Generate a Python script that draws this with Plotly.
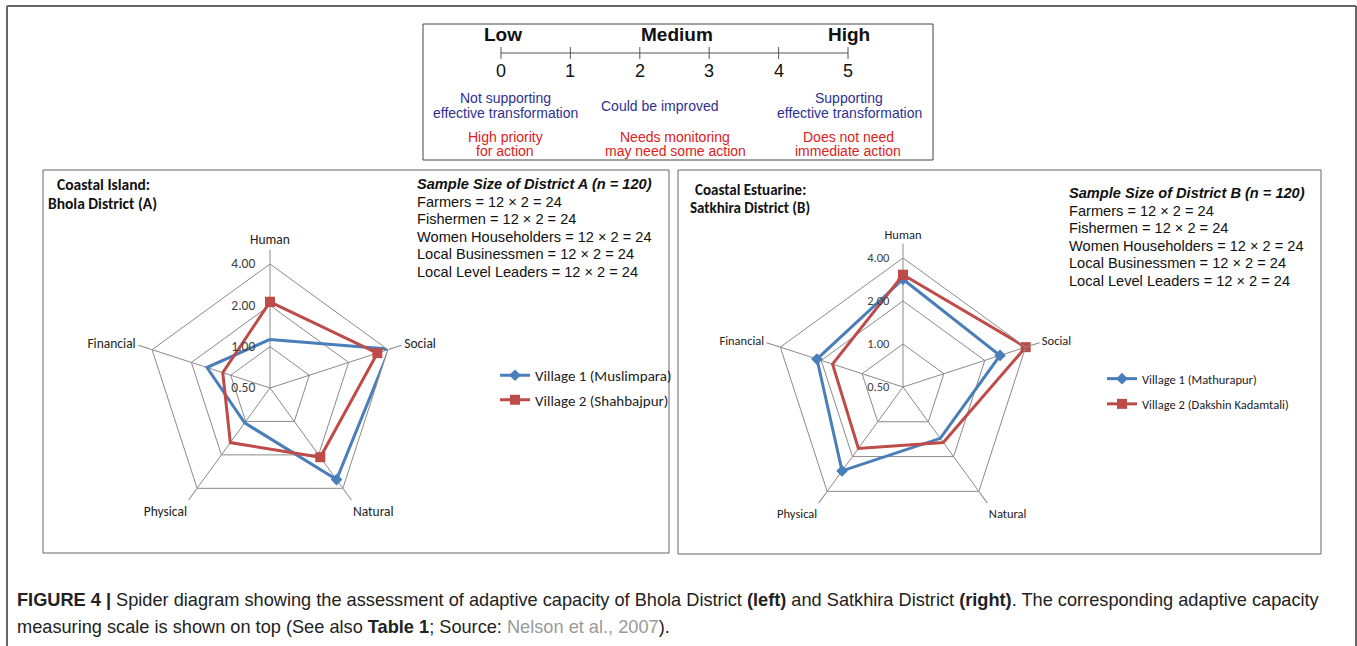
import math
import plotly.graph_objects as go

W, H = 1357, 646

categories = ["Human", "Social", "Natural", "Physical", "Financial"]

# District A (Bhola)
bhola_village1 = [1.13, 4.12, 3.34, 1.03, 1.52]
bhola_village2 = [2.12, 3.32, 2.10, 1.55, 1.15]
bhola_names = ["Village 1 (Muslimpara)", "Village 2 (Shahbajpur)"]

# District B (Satkhira)
satkhira_village1 = [2.84, 2.59, 1.39, 2.66, 2.15]
satkhira_village2 = [3.05, 4.00, 1.51, 1.70, 1.65]
satkhira_names = ["Village 1 (Mathurapur)", "Village 2 (Dakshin Kadamtali)"]

radial_ticks = [0.5, 1, 2, 4]
radial_ticktext = ["0.50", "1.00", "2.00", "4.00"]

scale_values = [0, 1, 2, 3, 4, 5]
scale_levels = ["Low", "Medium", "High"]
scale_blue = [["Not supporting", "effective transformation"], ["Could be improved"],
              ["Supporting", "effective transformation"]]
scale_red = [["High priority", "for action"], ["Needs monitoring", "may need some action"],
             ["Does not need", "immediate action"]]

sample_lines_title = "Sample Size of District {} (n = 120)"
sample_lines = ["Farmers = 12 \u00d7 2 = 24", "Fishermen = 12 \u00d7 2 = 24",
                "Women Householders = 12 \u00d7 2 = 24", "Local Businessmen = 12 \u00d7 2 = 24",
                "Local Level Leaders = 12 \u00d7 2 = 24"]

BLUE = "#4a7ebb"
RED = "#be4b48"
GRID = "#8a8a8a"
CAL = "Carlito, Liberation Sans Narrow, DejaVu Sans Condensed, sans-serif"
ARIAL = "Liberation Sans, Arial, sans-serif"
PAD = "\u00a0" * 4


def px(x):
    return x / W


def py(y):
    return 1 - y / H


fig = go.Figure()


def add_radar(polar, legend, v1, v2, names):
    for vals, name, color, sym, size in [(v1, names[0], BLUE, "diamond", 9),
                                          (v2, names[1], RED, "square", 10)]:
        fig.add_trace(go.Scatterpolar(
            r=vals + vals[:1], theta=categories + categories[:1], mode="lines+markers",
            name=name, subplot=polar, legend=legend, legendgroup=name, cliponaxis=False,
            line=dict(color=color, width=3), marker=dict(symbol=sym, size=size, color=color)))


add_radar("polar", "legend", bhola_village1, bhola_village2, bhola_names)
add_radar("polar2", "legend2", satkhira_village1, satkhira_village2, satkhira_names)


def polar_layout(cx, cy, R, fs):
    return dict(
        domain=dict(x=[px(cx - R), px(cx + R)], y=[py(cy + R), py(cy - R)]),
        gridshape="linear", bgcolor="white",
        radialaxis=dict(type="log", range=[math.log10(0.5), math.log10(4)],
                        tickvals=radial_ticks, ticktext=[t + PAD for t in radial_ticktext],
                        angle=90, tickangle=90,
                        side="counterclockwise", showline=False, ticks="",
                        gridcolor=GRID, gridwidth=1,
                        tickfont=dict(family=CAL, size=fs, color="#404040")),
        angularaxis=dict(direction="clockwise", rotation=90, categoryorder="array",
                         categoryarray=categories, showline=True, linecolor=GRID, linewidth=1,
                         gridcolor=GRID, ticks="outside", ticklen=14, tickcolor=GRID,
                         tickfont=dict(family=CAL, size=fs, color="#222")))


fig.update_layout(polar=polar_layout(270, 388, 124, 13.5), polar2=polar_layout(903, 387, 129, 12.5))

legend_common = dict(bgcolor="rgba(0,0,0,0)", traceorder="grouped",
                     itemwidth=30, xanchor="left", yanchor="top")
fig.update_layout(legend=dict(x=px(495), y=py(359), tracegroupgap=2,
                              font=dict(family=CAL, size=15, color="#222"), **legend_common),
                  legend2=dict(x=px(1102), y=py(364), tracegroupgap=6,
                               font=dict(family=CAL, size=12.5, color="#222"), **legend_common))

shapes = []
annotations = []


def rect(x0, y0, x1, y1, color="#777", width=1):
    shapes.append(dict(type="rect", xref="paper", yref="paper", x0=px(x0), x1=px(x1),
                       y0=py(y1), y1=py(y0), line=dict(color=color, width=width)))


def line(x0, y0, x1, y1, color="#555", width=1):
    shapes.append(dict(type="line", xref="paper", yref="paper", x0=px(x0), x1=px(x1),
                       y0=py(y0), y1=py(y1), line=dict(color=color, width=width)))


def text(x, y, s, size, color="#111", family=ARIAL, anchor="center"):
    annotations.append(dict(x=px(x), y=py(y), xref="paper", yref="paper", text=s, showarrow=False,
                            xanchor=anchor, yanchor="middle", borderpad=0,
                            font=dict(family=family, size=size, color=color)))


# outer frame (open at the bottom)
line(7, 6, 1356, 6, "#666", 2)
line(7, 6, 7, 646, "#666", 2)
line(1356, 6, 1356, 646, "#666", 2)

# scale box
rect(423, 24, 933, 160, "#444", 1)
tick_x = [501 + i * 69.4 for i in range(len(scale_values))]
line(tick_x[0], 53, tick_x[-1], 53, "#555", 1)
for tx, v in zip(tick_x, scale_values):
    line(tx, 47, tx, 59, "#555", 1)
    text(tx, 71, str(v), 18, "#111")
for cx, lab in zip([503, 677, 849], scale_levels):
    text(cx, 35, "<b>%s</b>" % lab, 19, "#111")
for cx, lines in zip([505, 660, 849], scale_blue):
    ys = [106] if len(lines) == 1 else [98.5, 113]
    for yy, s in zip(ys, lines):
        text(cx, yy, s, 14, "#2e3192")
for cx, lines in zip([505, 675, 848], scale_red):
    for yy, s in zip([136.5, 151], lines):
        text(cx, yy, s, 14, "#e0201b")

# panels
rect(43, 170, 669, 553, "#666", 1)
rect(678, 170, 1321, 554, "#666", 1)

text(56, 185, "<b>Coastal Island:</b>", 15.5, "#111", CAL, "left")
text(47, 203, "<b>Bhola District (A)</b>", 15.5, "#111", CAL, "left")
text(694, 190, "<b>Coastal Estuarine:</b>", 15, "#111", CAL, "left")
text(689, 208, "<b>Satkhira District (B)</b>", 15, "#111", CAL, "left")

for x0, y0, letter in [(416, 184, "A"), (1068, 193, "B")]:
    text(x0, y0, "<b><i>%s</i></b>" % sample_lines_title.format(letter), 14.6, "#111", ARIAL, "left")
    for i, s in enumerate(sample_lines):
        text(x0, y0 + 17.6 * (i + 1), s, 14.6, "#111", ARIAL, "left")

# caption
text(16, 600, "<b>FIGURE 4 |</b> Spider diagram showing the assessment of adaptive capacity of Bhola "
     "District <b>(left)</b> and Satkhira District <b>(right)</b>. The corresponding adaptive capacity",
     18.2, "#222", ARIAL, "left")
text(16, 627, "measuring scale is shown on top (See also <b>Table 1</b>; Source: "
     "<span style='color:#9a9a9a'>Nelson et al., 2007</span>).", 18.2, "#222", ARIAL, "left")

fig.update_layout(width=W, height=H, margin=dict(l=0, r=0, t=0, b=0),
                  paper_bgcolor="white", plot_bgcolor="white",
                  shapes=shapes, annotations=annotations)

fig.write_html("out.html", config={"displayModeBar": False},
               post_script="document.body.style.margin='0';document.body.style.overflow='hidden';")
